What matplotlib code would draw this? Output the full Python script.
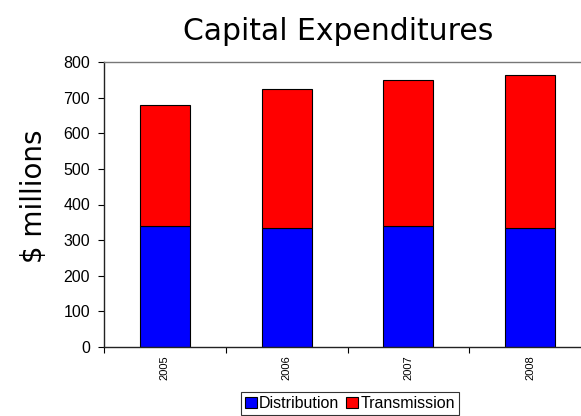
import matplotlib
matplotlib.use("Agg")
import matplotlib.pyplot as plt
import numpy as np

years = ["2005", "2006", "2007", "2008"]
distribution = [340, 333, 341, 333]
transmission = [339, 391, 408, 431]
yticks = [0, 100, 200, 300, 400, 500, 600, 700, 800]

fig = plt.figure(figsize=(5.81, 4.16), dpi=100)
ax = fig.add_axes([104/581, (416-347)/416, (591-104)/581, (347-62)/416])

x = np.arange(len(years))
w = 0.41
b1 = ax.bar(x, distribution, w, color="#0000ff", edgecolor="black", linewidth=0.8, label="Distribution")
b2 = ax.bar(x, transmission, w, bottom=distribution, color="#ff0000", edgecolor="black", linewidth=0.8, label="Transmission")

ax.set_xlim(-0.5, len(years) - 0.5)
ax.set_ylim(0, 800)
ax.set_yticks(yticks)
ax.set_yticklabels([str(v) for v in yticks], fontfamily="Liberation Sans", fontsize=11.5)
ax.set_xticks(x)
ax.set_xticklabels(years, rotation=90, fontfamily="Liberation Sans", fontsize=8)
ax.set_xticks(np.arange(len(years)) - 0.5, minor=True)
ax.tick_params(axis="x", which="major", length=0, pad=6)
ax.tick_params(axis="x", which="minor", length=4, direction="out", width=0.8)
ax.tick_params(axis="y", length=4, direction="out", width=0.8, pad=6)

for s in ["left", "bottom"]:
    ax.spines[s].set_color("#222222")
    ax.spines[s].set_linewidth(1.0)
for s in ["top", "right"]:
    ax.spines[s].set_color("#777777")
    ax.spines[s].set_linewidth(1.0)

fig.text(338/581, 1 - 31/416, "Capital Expenditures", ha="center", va="center",
         fontfamily="DejaVu Sans", fontsize=21.5)
fig.text(34/581, 1 - 196/416, "$ millions", ha="center", va="center", rotation=90,
         fontfamily="DejaVu Sans", fontsize=20)

leg = fig.legend(handles=[b1, b2], loc="upper center", bbox_to_anchor=(350/581, 1 - 392/416),
                 ncol=2, frameon=True, fancybox=False, edgecolor="black",
                 prop={"family": "Liberation Sans", "size": 11.5},
                 handlelength=0.75, handleheight=0.75, handletextpad=0.15, columnspacing=0.45,
                 borderpad=0.25, borderaxespad=0)
leg.get_frame().set_linewidth(0.8)

fig.savefig("out.png", dpi=100)
